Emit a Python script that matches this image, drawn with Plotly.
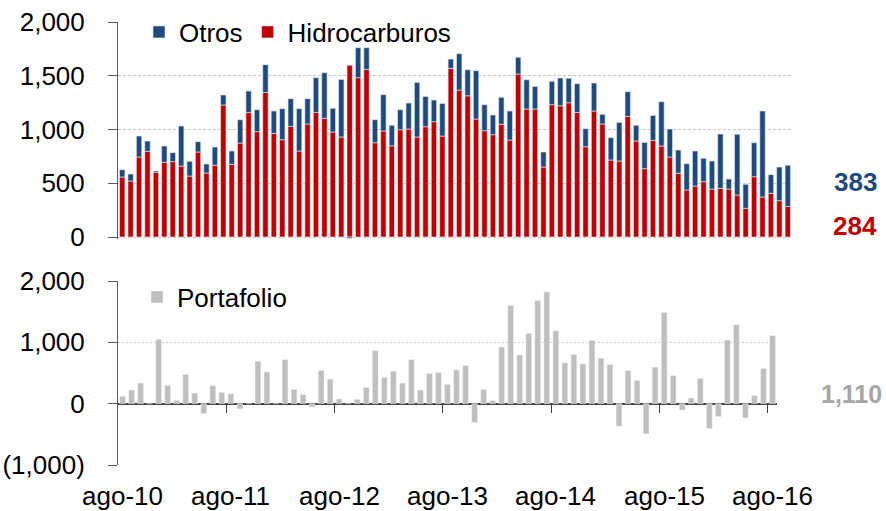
import plotly.graph_objects as go

# ---------------- data ----------------
MESES = ["ene", "feb", "mar", "abr", "may", "jun", "jul", "ago", "sep", "oct", "nov", "dic"]

# top panel: ene-10 .. ago-16 (80 months)
top_months = [f"{MESES[m]}-{y:02d}" for y in range(10, 17) for m in range(12)][:80]
hidrocarburos = [558, 521, 744, 797, 601, 694, 701, 660, 567, 791,
                 595, 667, 1228, 676, 874, 1159, 980, 1345, 964, 905,
                 1029, 800, 1051, 1159, 1104, 977, 930, 1597, 1482, 1559,
                 877, 986, 849, 998, 1004, 930, 1026, 1073, 939, 1569,
                 1367, 1314, 1097, 989, 952, 1048, 902, 1516, 1190, 1190,
                 651, 1231, 1221, 1249, 1159, 840, 1172, 1051, 716, 707,
                 1122, 893, 636, 899, 846, 744, 592, 437, 474, 515,
                 446, 453, 446, 391, 267, 561, 372, 406, 338, 284]
otros = [68, 65, 195, 96, 13, 152, 83, 372, 137, 96,
         84, 170, 93, 124, 217, 199, 204, 258, 208, 289,
         258, 394, 236, 323, 424, 220, 536, -15, 279, 202,
         214, 338, 190, 186, 242, 508, 282, 201, 304, 86,
         338, 242, 450, 242, 183, 251, 270, 155, 273, 211,
         140, 217, 258, 227, 267, 168, 260, 90, 208, 359,
         230, 146, 244, 232, 413, 260, 217, 245, 326, 217,
         261, 505, 93, 564, 223, 316, 800, 174, 313, 383]

# bottom panel: ago-10 .. ago-16 (73 months)
bottom_months = top_months[7:]
portafolio = [119, 222, 335, 0, 1049, 297, 54, 476, 173, -162,
              292, 184, 162, -86, 0, 692, 519, 0, 719, 232,
              146, -54, 540, 400, 76, 0, 70, 265, 865, 427,
              530, 335, 719, 222, 492, 508, 314, 551, 622, -308,
              232, 49, 924, 1600, 795, 1146, 1681, 1822, 1189, 665,
              800, 649, 1032, 741, 638, -368, 540, 378, -492, 595,
              1486, 459, -103, 92, 411, -405, -211, 1038, 1286, -232,
              130, 573, 1110]

top_ticks = [0, 500, 1000, 1500, 2000]
top_ticktext = [f"{v:,}" for v in top_ticks]
bottom_ticks = [-1000, 0, 1000, 2000]
bottom_ticktext = [f"({abs(v):,})" if v < 0 else f"{v:,}" for v in bottom_ticks]
x_labels = [m for m in bottom_months if m.startswith("ago")]

# ---------------- styling ----------------
RED = "#C00000"
BLUE = "#1F4A7E"
GRAY = "#BFBFBF"
FONT = "Liberation Sans, Arial, sans-serif"
FS = 26
W, H = 886, 511


def px_x(p):
    """screen pixel -> paper fraction"""
    return p / W


def px_y(p):
    return 1 - p / H


top_idx = list(range(len(top_months)))
bot_idx = list(range(len(bottom_months)))

fig = go.Figure()
fig.add_trace(go.Bar(x=top_idx, y=hidrocarburos, name="Hidrocarburos", marker_color=RED,
                     marker_line=dict(color="rgba(225,232,242,0.9)", width=0.7),
                     width=0.64, hovertext=top_months, legendrank=2,
                     xaxis="x", yaxis="y", legend="legend"))
fig.add_trace(go.Bar(x=top_idx, y=otros, name="Otros", marker_color=BLUE,
                     marker_line=dict(color="rgba(225,232,242,0.9)", width=0.7),
                     width=0.64, hovertext=top_months, legendrank=1,
                     xaxis="x", yaxis="y", legend="legend"))
fig.add_trace(go.Bar(x=bot_idx, y=portafolio, name="Portafolio", marker_color=GRAY,
                     marker_line=dict(color="rgba(245,245,245,0.9)", width=0.5),
                     width=0.64, hovertext=bottom_months,
                     xaxis="x2", yaxis="y2", legend="legend2"))

axis_common = dict(showline=True, linecolor="#595959", linewidth=1,
                   ticks="outside", ticklen=9, tickcolor="#595959", tickwidth=1,
                   tickfont=dict(size=FS, color="#000000", family=FONT),
                   ticklabelstandoff=18, ticklabeloverflow="allow",
                   showgrid=True, gridcolor="#C8C8C8",
                   griddash="3px,2px", gridwidth=1, zeroline=False, automargin=False)

top_zero_px, top_2000_px = 237, 22
top_range = [-15, 2000]
top_bottom_px = top_zero_px + (0 - top_range[0]) * (top_zero_px - top_2000_px) / 2000

fig.update_layout(
    template="none",
    width=W, height=H,
    margin=dict(l=0, r=0, t=0, b=0, pad=0, autoexpand=False),
    paper_bgcolor="white", plot_bgcolor="white",
    barmode="relative",
    font=dict(family=FONT, size=FS, color="#000000"),
    xaxis=dict(domain=[px_x(118), px_x(792)], range=[-0.5, len(top_idx) - 0.5],
               visible=False, anchor="y", automargin=False),
    yaxis=dict(domain=[px_y(top_bottom_px), px_y(top_2000_px)], range=top_range,
               tickvals=top_ticks, ticktext=top_ticktext, anchor="x", **axis_common),
    xaxis2=dict(domain=[px_x(118), px_x(777)], range=[-0.5, len(bot_idx) - 0.5],
                anchor="free", position=px_y(403.7), showline=False,
                ticks="outside", ticklen=8, tickcolor="#404040", tickwidth=1.2,
                tickvals=[i - 0.5 for i, m in enumerate(bottom_months) if m.startswith("ago") and i > 0],
                showticklabels=False, showgrid=False, zeroline=False, automargin=False),
    yaxis2=dict(domain=[px_y(465), px_y(281)], range=[-1000, 2000],
                tickvals=bottom_ticks, ticktext=bottom_ticktext, anchor="x2",
                **{**axis_common, "zeroline": True, "zerolinecolor": "#404040",
                   "zerolinewidth": 1.5, "griddash": "2px,2px", "gridcolor": "#CFCFCF"}),
    legend=dict(orientation="h", x=px_x(139), xanchor="left", y=px_y(32), yanchor="middle",
                bgcolor="rgba(0,0,0,0)", font=dict(size=FS), traceorder="normal"),
    legend2=dict(orientation="h", x=px_x(137), xanchor="left", y=px_y(297), yanchor="middle",
                 bgcolor="rgba(0,0,0,0)", font=dict(size=FS)),
    showlegend=True,
)

annotations = []
for lab in x_labels:
    annotations.append(dict(x=bottom_months.index(lab), y=px_y(496), xref="x2", yref="paper",
                            text=lab, showarrow=False, xanchor="center", yanchor="middle",
                            font=dict(size=FS, color="#000000")))
annotations.append(dict(x=px_x(855), y=px_y(182), xref="paper", yref="paper",
                        text=f"{otros[-1]:,}", showarrow=False, xanchor="center", yanchor="middle",
                        font=dict(size=FS, color=BLUE, weight="bold")))
annotations.append(dict(x=px_x(855), y=px_y(226), xref="paper", yref="paper",
                        text=f"{hidrocarburos[-1]:,}", showarrow=False, xanchor="center", yanchor="middle",
                        font=dict(size=FS, color=RED, weight="bold")))
annotations.append(dict(x=px_x(819), y=px_y(394), xref="paper", yref="paper",
                        text=f"{portafolio[-1]:,}", showarrow=False, xanchor="left", yanchor="middle",
                        font=dict(size=25, color="#A6A6A6", weight="bold")))
fig.update_layout(annotations=annotations)

# remove the default 8px page margin so the figure sits at the window origin
fig.write_html("out.html",
               config={"displayModeBar": False},
               post_script="document.body.style.margin='0';document.body.style.overflow='hidden';")
